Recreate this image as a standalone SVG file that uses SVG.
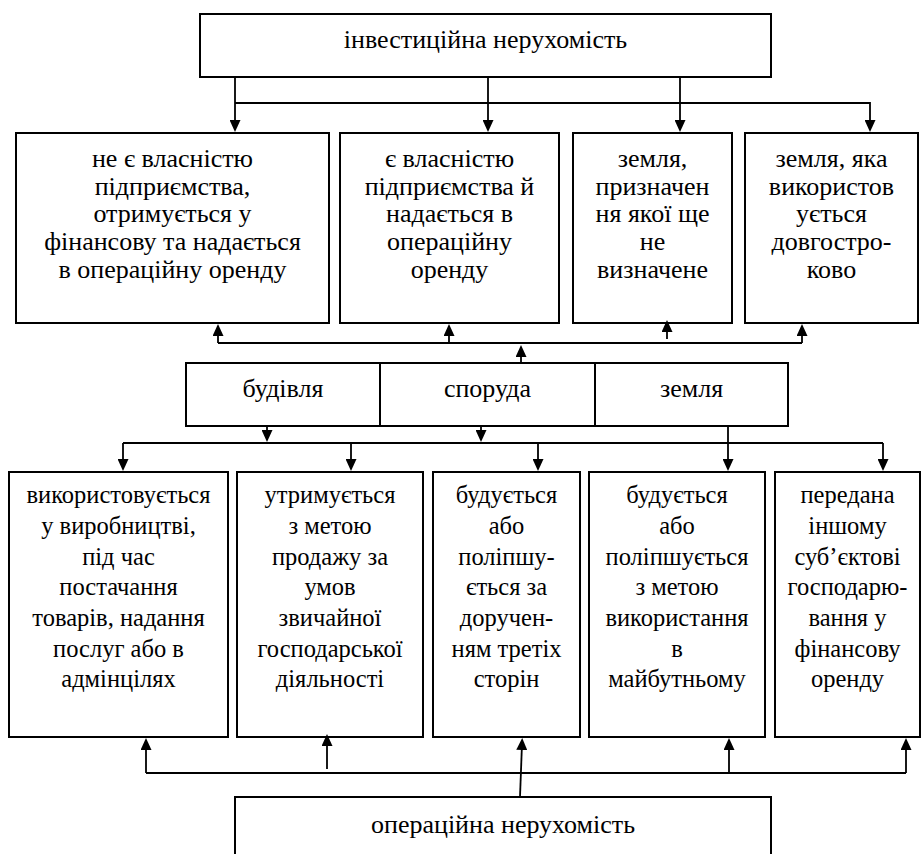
<svg xmlns="http://www.w3.org/2000/svg" width="924" height="854" viewBox="0 0 924 854">
<defs>
<marker id="a" viewBox="0 0 12 11" refX="6" refY="5.5" markerWidth="12" markerHeight="11" markerUnits="userSpaceOnUse" orient="auto">
<path d="M0,0 L12,5.5 L0,11 z" fill="#000"/>
</marker>
</defs>
<rect width="924" height="854" fill="#fff"/>
<g id="nodes" fill="#fff" stroke="#000" stroke-width="2">
<rect id="r-invest" x="200" y="14" width="571" height="63"/>
<rect id="r-t1" x="16" y="133" width="313" height="190"/>
<rect id="r-t2" x="340" y="133" width="219" height="190"/>
<rect id="r-t3" x="573" y="133" width="159" height="190"/>
<rect id="r-t4" x="745" y="133" width="173" height="190"/>
<rect id="r-budivlia" x="186" y="363" width="194" height="63"/>
<rect id="r-sporuda" x="380" y="363" width="215" height="63"/>
<rect id="r-zemlia" x="595" y="363" width="193" height="63"/>
<rect id="r-b1" x="9" y="472" width="219" height="265"/>
<rect id="r-b2" x="237" y="472" width="186" height="265"/>
<rect id="r-b3" x="433" y="472" width="147" height="265"/>
<rect id="r-b4" x="589" y="472" width="176" height="265"/>
<rect id="r-b5" x="775" y="472" width="145" height="265"/>
<rect id="r-oper" x="235" y="797" width="536" height="80"/>
</g>
<g id="labels" font-family="Liberation Serif" fill="#000" text-anchor="middle">
<g font-size="26">
<text id="n-invest" x="485.5" y="48">інвестиційна нерухомість</text>
<text id="n-t1"><tspan x="172.5" y="167">не є власністю</tspan><tspan x="172.5" y="194.7">підприємства,</tspan><tspan x="172.5" y="222.4">отримується у</tspan><tspan x="172.5" y="250.1">фінансову та надається</tspan><tspan x="172.5" y="277.8">в операційну оренду</tspan></text>
<text id="n-t2"><tspan x="449.5" y="167">є власністю</tspan><tspan x="449.5" y="194.7">підприємства й</tspan><tspan x="449.5" y="222.4">надається в</tspan><tspan x="449.5" y="250.1">операційну</tspan><tspan x="449.5" y="277.8">оренду</tspan></text>
<text id="n-t3"><tspan x="652.5" y="167">земля,</tspan><tspan x="652.5" y="194.7">призначен</tspan><tspan x="652.5" y="222.4">ня якої ще</tspan><tspan x="652.5" y="250.1">не</tspan><tspan x="652.5" y="277.8">визначене</tspan></text>
<text id="n-t4"><tspan x="831.5" y="167">земля, яка</tspan><tspan x="831.5" y="194.7">використов</tspan><tspan x="831.5" y="222.4">ується</tspan><tspan x="831.5" y="250.1">довгостро-</tspan><tspan x="831.5" y="277.8">ково</tspan></text>
<text id="n-budivlia" x="283" y="397">будівля</text>
<text id="n-sporuda" x="487.5" y="397">споруда</text>
<text id="n-zemlia" x="691.5" y="397">земля</text>
<text id="n-oper" x="503" y="833">операційна нерухомість</text>
</g>
<g font-size="24.5">
<text id="n-b1"><tspan x="118.5" y="503">використовується</tspan><tspan x="118.5" y="534">у виробництві,</tspan><tspan x="118.5" y="564.5">під час</tspan><tspan x="118.5" y="595">постачання</tspan><tspan x="118.5" y="626">товарів, надання</tspan><tspan x="118.5" y="656.5">послуг або в</tspan><tspan x="118.5" y="687">адмінцілях</tspan></text>
<text id="n-b2"><tspan x="330" y="503">утримується</tspan><tspan x="330" y="534">з метою</tspan><tspan x="330" y="564.5">продажу за</tspan><tspan x="330" y="595">умов</tspan><tspan x="330" y="626">звичайної</tspan><tspan x="330" y="656.5">господарської</tspan><tspan x="330" y="687">діяльності</tspan></text>
<text id="n-b3"><tspan x="506.5" y="503">будується</tspan><tspan x="506.5" y="534">або</tspan><tspan x="506.5" y="564.5">поліпшу-</tspan><tspan x="506.5" y="595">ється за</tspan><tspan x="506.5" y="626">доручен-</tspan><tspan x="506.5" y="656.5">ням третіх</tspan><tspan x="506.5" y="687">сторін</tspan></text>
<text id="n-b4"><tspan x="677" y="503">будується</tspan><tspan x="677" y="534">або</tspan><tspan x="677" y="564.5">поліпшується</tspan><tspan x="677" y="595">з метою</tspan><tspan x="677" y="626">використання</tspan><tspan x="677" y="656.5">в</tspan><tspan x="677" y="687">майбутньому</tspan></text>
<text id="n-b5"><tspan x="847.5" y="503">передана</tspan><tspan x="847.5" y="534">іншому</tspan><tspan x="847.5" y="564.5">суб’єктові</tspan><tspan x="847.5" y="595">господарю-</tspan><tspan x="847.5" y="626">вання у</tspan><tspan x="847.5" y="656.5">фінансову</tspan><tspan x="847.5" y="687">оренду</tspan></text>
</g>
</g>
<g id="connectors" fill="none" stroke="#000" stroke-width="1.8">
<path d="M235,77 V126" marker-end="url(#a)"/>
<path d="M488,77 V126" marker-end="url(#a)"/>
<path d="M680,77 V126" marker-end="url(#a)"/>
<path d="M235,103 H870 V126" marker-end="url(#a)"/>
<path d="M521,363 V351" marker-end="url(#a)"/>
<path d="M218,343 H802"/>
<path d="M218,343 V330" marker-end="url(#a)"/>
<path d="M449,343 V330" marker-end="url(#a)"/>
<path d="M802,343 V330" marker-end="url(#a)"/>
<path d="M667,339 V326" marker-end="url(#a)"/>
<path d="M267,426 V436" marker-end="url(#a)"/>
<path d="M481,426 V436" marker-end="url(#a)"/>
<path d="M728,426 V465" marker-end="url(#a)"/>
<path d="M123,443 H883"/>
<path d="M123,443 V465" marker-end="url(#a)"/>
<path d="M351,443 V465" marker-end="url(#a)"/>
<path d="M538,443 V465" marker-end="url(#a)"/>
<path d="M883,443 V465" marker-end="url(#a)"/>
<path d="M146,773 H906"/>
<path d="M146,773 V744" marker-end="url(#a)"/>
<path d="M327,769 V740" marker-end="url(#a)"/>
<path d="M520,797 L522,744" marker-end="url(#a)"/>
<path d="M729,773 V744" marker-end="url(#a)"/>
<path d="M906,773 V744" marker-end="url(#a)"/>
</g>
</svg>
